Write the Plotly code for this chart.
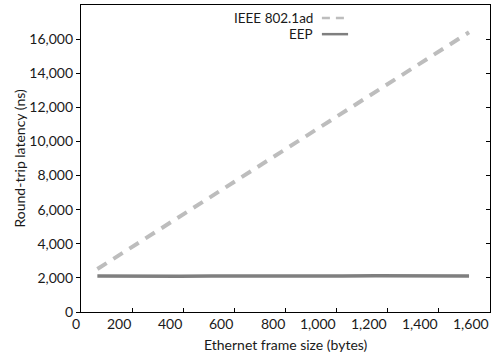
import plotly.graph_objects as go

frame_sizes = [64, 128, 256, 384, 512, 640, 768, 896, 1024, 1152, 1280, 1408, 1518]
ieee_latency = [2520, 3130, 4350, 5580, 6800, 8030, 9250, 10480, 11700, 12920, 14150, 15370, 16400]
eep_latency = [2110, 2100, 2120, 2100, 2115, 2105, 2095, 2110, 2105, 2120, 2110, 2105, 2110]

x_ticks = [0, 200, 400, 600, 800, 1000, 1200, 1400, 1600]
y_ticks = [0, 2000, 4000, 6000, 8000, 10000, 12000, 14000, 16000]

FONT = "Lato, Open Sans, sans-serif"
TXT = "#1a1a1a"
ieee_color = "#bdbdbd"
eep_color = "#7f7f7f"

fig = go.Figure()
fig.add_trace(go.Scatter(x=frame_sizes, y=ieee_latency, mode="lines", name="IEEE 802.1ad",
                         line=dict(color=ieee_color, width=4, dash="11px,8px")))
fig.add_trace(go.Scatter(x=frame_sizes, y=eep_latency, mode="lines", name="EEP",
                         line=dict(color=eep_color, width=3.5)))
# invisible trace for right mirrored axis ticks
fig.add_trace(go.Scatter(x=[0], y=[0], yaxis="y2", mode="markers", marker=dict(opacity=0),
                         showlegend=False, hoverinfo="skip"))

fig.update_layout(
    width=491, height=352,
    margin=dict(l=81, r=1, t=5, b=40),
    paper_bgcolor="white", plot_bgcolor="white",
    showlegend=False,
    font=dict(family=FONT, size=14, color=TXT),
    xaxis=dict(range=[0, 1600], tickvals=x_ticks, showticklabels=False, automargin=False,
               ticks="inside", ticklen=4, tickcolor="black",
               showline=True, linecolor="black", linewidth=1.3, mirror=True,
               showgrid=False, zeroline=False),
    yaxis=dict(range=[0, 18000], tickvals=y_ticks, tickformat=",d", automargin=False,
               ticks="outside", ticklen=4, tickcolor="black",
               showline=True, linecolor="black", linewidth=1.3, mirror=True,
               showgrid=False, zeroline=False),
    yaxis2=dict(range=[0, 18000], tickvals=y_ticks, overlaying="y", side="right", automargin=False,
                ticks="inside", ticklen=4, tickcolor="black", showticklabels=False,
                showline=False, showgrid=False, zeroline=False),
)

# x tick labels (right-aligned at ticks, as in the reference)
for v in x_ticks:
    fig.add_annotation(xref="x", yref="paper", x=v, y=0, text=f"{v:,}", showarrow=False,
                       xanchor="right", yanchor="top", xshift=1, yshift=-1,
                       font=dict(family=FONT, size=14, color=TXT))

# axis titles
fig.add_annotation(xref="paper", yref="paper", x=0.5, y=0, text="Ethernet frame size (bytes)",
                   showarrow=False, xanchor="center", yanchor="top", yshift=-22,
                   font=dict(family=FONT, size=14, color=TXT))
fig.add_annotation(xref="paper", yref="paper", x=0, y=0.5, text="Round-trip latency (ns)",
                   showarrow=False, textangle=-90, xanchor="center", yanchor="middle", xshift=-62,
                   font=dict(family=FONT, size=14, color=TXT))

# legend drawn manually: text right-aligned, line sample to its right
legend_items = [("IEEE 802.1ad", ieee_color, "8px,6px", 0.958),
                ("EEP", eep_color, "solid", 0.905)]
for name, color, dash, ypos in legend_items:
    fig.add_annotation(xref="paper", yref="paper", x=0.570, y=ypos, text=name,
                       showarrow=False, xanchor="right", yanchor="middle", borderpad=0,
                       font=dict(family=FONT, size=13.5, color=TXT))
    fig.add_shape(type="line", xref="paper", yref="paper", x0=0.589, x1=0.653, y0=ypos, y1=ypos,
                  line=dict(color=color, width=2.5, dash=dash))

fig.write_html("out.html", config={"displayModeBar": False},
               post_script="document.body.style.margin='0';")
